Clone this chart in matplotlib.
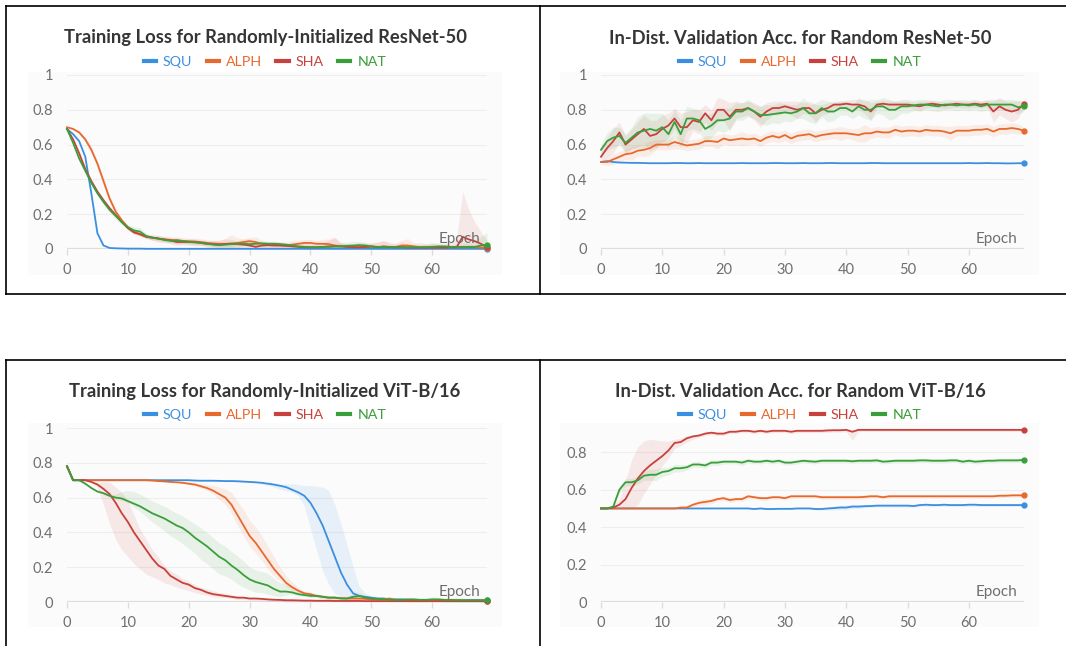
"""Recreación de las cuatro curvas de entrenamiento (ResNet-50 / ViT-B/16)."""

import matplotlib
matplotlib.use('Agg')
import matplotlib.pyplot as plt
from matplotlib.lines import Line2D
from matplotlib.patches import Rectangle


ANCHO_PX = 1066
ALTO_PX = 646
FUENTE = 'Lato'

EPOCAS = list(range(70))
NOMBRES = ['SQU', 'ALPH', 'SHA', 'NAT']
COLORES = ['#3b8fe0', '#e8692d', '#c8413d', '#3a9f3a']

# ---------------- Training Loss ResNet-50 ----------------
rn_loss_squ = [
    0.69, 0.66, 0.62, 0.53, 0.32, 0.09, 0.02, 0.006, 0.004, 0.003,
    0.002, 0.002, 0.002, 0.001, 0.001, 0.001, 0.001, 0.001, 0.001, 0.001,
    0.001, 0.001, 0.001, 0.001, 0.001, 0.001, 0.001, 0.001, 0.001, 0.001,
    0.001, 0.001, 0.001, 0.001, 0.001, 0.001, 0.001, 0.001, 0.001, 0.001,
    0.001, 0.001, 0.001, 0.001, 0.001, 0.001, 0.001, 0.001, 0.001, 0.001,
    0.001, 0.001, 0.001, 0.001, 0.001, 0.001, 0.001, 0.001, 0.001, 0.001,
    0.001, 0.001, 0.001, 0.001, 0.001, 0.001, 0.001, 0.001, 0.001, 0.0]
rn_loss_alph = [
    0.70, 0.69, 0.67, 0.63, 0.57, 0.49, 0.39, 0.29, 0.215, 0.165,
    0.125, 0.10, 0.085, 0.072, 0.066, 0.06, 0.055, 0.052, 0.05, 0.047,
    0.045, 0.043, 0.04, 0.035, 0.032, 0.03, 0.03, 0.032, 0.035, 0.04,
    0.045, 0.04, 0.03, 0.025, 0.025, 0.022, 0.02, 0.025, 0.03, 0.035,
    0.035, 0.03, 0.03, 0.028, 0.02, 0.015, 0.012, 0.012, 0.01, 0.01,
    0.012, 0.012, 0.01, 0.01, 0.012, 0.02, 0.02, 0.015, 0.01, 0.01,
    0.008, 0.008, 0.008, 0.01, 0.01, 0.01, 0.01, 0.01, 0.008, 0.008]
rn_loss_sha = [
    0.69, 0.63, 0.55, 0.46, 0.39, 0.33, 0.28, 0.235, 0.195, 0.155,
    0.12, 0.095, 0.085, 0.07, 0.065, 0.06, 0.055, 0.05, 0.04, 0.04,
    0.04, 0.038, 0.035, 0.03, 0.028, 0.025, 0.028, 0.03, 0.028, 0.025,
    0.02, 0.012, 0.02, 0.022, 0.02, 0.02, 0.018, 0.015, 0.012, 0.01,
    0.01, 0.01, 0.012, 0.015, 0.015, 0.015, 0.012, 0.01, 0.01, 0.012,
    0.015, 0.01, 0.015, 0.012, 0.01, 0.01, 0.008, 0.008, 0.008, 0.008,
    0.008, 0.008, 0.008, 0.01, 0.01, 0.07, 0.055, 0.045, 0.03, 0.01]
rn_loss_nat = [
    0.69, 0.61, 0.52, 0.45, 0.38, 0.32, 0.27, 0.225, 0.19, 0.155,
    0.125, 0.107, 0.10, 0.075, 0.065, 0.06, 0.052, 0.047, 0.05, 0.045,
    0.04, 0.04, 0.035, 0.03, 0.025, 0.022, 0.025, 0.028, 0.03, 0.03,
    0.028, 0.03, 0.032, 0.03, 0.03, 0.028, 0.025, 0.02, 0.015, 0.012,
    0.01, 0.01, 0.012, 0.012, 0.015, 0.015, 0.018, 0.02, 0.022, 0.02,
    0.015, 0.012, 0.012, 0.012, 0.01, 0.01, 0.01, 0.01, 0.01, 0.01,
    0.012, 0.015, 0.015, 0.012, 0.012, 0.012, 0.012, 0.012, 0.02, 0.025]

# dispersión (min/max entre corridas) alrededor de cada curva
rn_loss_alph_sd = [
    0.0, 0.005, 0.01, 0.015, 0.02, 0.02, 0.02, 0.02, 0.015, 0.01,
    0.01, 0.01, 0.01, 0.01, 0.015, 0.015, 0.02, 0.015, 0.02, 0.02,
    0.015, 0.02, 0.02, 0.015, 0.02, 0.02, 0.03, 0.05, 0.03, 0.02,
    0.02, 0.03, 0.02, 0.015, 0.02, 0.02, 0.02, 0.025, 0.02, 0.02,
    0.02, 0.02, 0.025, 0.03, 0.05, 0.02, 0.015, 0.015, 0.02, 0.02,
    0.02, 0.025, 0.035, 0.03, 0.02, 0.03, 0.04, 0.02, 0.015, 0.02,
    0.03, 0.02, 0.015, 0.015, 0.02, 0.03, 0.02, 0.015, 0.015, 0.01]
rn_loss_sha_sd = [
    0.0, 0.005, 0.01, 0.01, 0.01, 0.01, 0.01, 0.01, 0.01, 0.01,
    0.01, 0.01, 0.01, 0.01, 0.015, 0.02, 0.015, 0.02, 0.02, 0.015,
    0.02, 0.02, 0.015, 0.02, 0.02, 0.025, 0.03, 0.025, 0.02, 0.03,
    0.04, 0.03, 0.02, 0.025, 0.02, 0.02, 0.015, 0.02, 0.025, 0.03,
    0.02, 0.02, 0.025, 0.035, 0.05, 0.02, 0.02, 0.02, 0.03, 0.025,
    0.02, 0.03, 0.035, 0.02, 0.02, 0.03, 0.02, 0.02, 0.03, 0.02,
    0.02, 0.015, 0.02, 0.03, 0.05, 0.26, 0.17, 0.11, 0.07, 0.04]
rn_loss_nat_sd = [
    0.0, 0.005, 0.01, 0.01, 0.01, 0.01, 0.015, 0.015, 0.02, 0.015,
    0.015, 0.02, 0.025, 0.015, 0.01, 0.01, 0.01, 0.01, 0.015, 0.01,
    0.01, 0.01, 0.01, 0.01, 0.01, 0.01, 0.01, 0.015, 0.01, 0.01,
    0.01, 0.01, 0.015, 0.01, 0.01, 0.01, 0.01, 0.01, 0.01, 0.01,
    0.01, 0.01, 0.01, 0.015, 0.015, 0.02, 0.02, 0.025, 0.02, 0.015,
    0.01, 0.01, 0.01, 0.01, 0.01, 0.01, 0.01, 0.01, 0.01, 0.015,
    0.02, 0.02, 0.015, 0.01, 0.01, 0.015, 0.02, 0.03, 0.05, 0.07]

# ---------------- Validation Acc ResNet-50 ----------------
rn_acc_squ = [
    0.50, 0.505, 0.50, 0.497, 0.496, 0.495, 0.495, 0.494, 0.493, 0.493,
    0.493, 0.493, 0.494, 0.494, 0.493, 0.493, 0.494, 0.493, 0.493, 0.493,
    0.493, 0.493, 0.493, 0.494, 0.493, 0.493, 0.493, 0.493, 0.494, 0.494,
    0.493, 0.493, 0.493, 0.494, 0.493, 0.493, 0.493, 0.494, 0.494, 0.493,
    0.493, 0.493, 0.493, 0.493, 0.494, 0.494, 0.493, 0.493, 0.493, 0.493,
    0.493, 0.493, 0.493, 0.493, 0.493, 0.493, 0.493, 0.493, 0.493, 0.493,
    0.494, 0.493, 0.493, 0.494, 0.493, 0.493, 0.492, 0.492, 0.493, 0.493]
rn_acc_alph = [
    0.50, 0.50, 0.515, 0.53, 0.545, 0.55, 0.565, 0.57, 0.58, 0.60,
    0.60, 0.60, 0.615, 0.605, 0.595, 0.60, 0.605, 0.62, 0.62, 0.615,
    0.635, 0.625, 0.63, 0.635, 0.63, 0.635, 0.62, 0.64, 0.65, 0.64,
    0.655, 0.635, 0.65, 0.655, 0.66, 0.645, 0.655, 0.66, 0.665, 0.665,
    0.665, 0.66, 0.655, 0.665, 0.665, 0.675, 0.67, 0.67, 0.685, 0.675,
    0.68, 0.68, 0.675, 0.685, 0.68, 0.68, 0.675, 0.665, 0.68, 0.68,
    0.68, 0.685, 0.685, 0.69, 0.675, 0.69, 0.69, 0.695, 0.69, 0.68]
rn_acc_sha = [
    0.53, 0.58, 0.62, 0.67, 0.60, 0.63, 0.66, 0.69, 0.65, 0.66,
    0.69, 0.71, 0.75, 0.70, 0.70, 0.74, 0.73, 0.78, 0.74, 0.80,
    0.80, 0.76, 0.80, 0.80, 0.81, 0.79, 0.76, 0.79, 0.81, 0.81,
    0.82, 0.81, 0.80, 0.81, 0.81, 0.78, 0.80, 0.81, 0.83, 0.83,
    0.835, 0.83, 0.83, 0.82, 0.79, 0.83, 0.835, 0.83, 0.83, 0.83,
    0.83, 0.825, 0.82, 0.83, 0.835, 0.83, 0.825, 0.83, 0.835, 0.83,
    0.83, 0.835, 0.83, 0.835, 0.79, 0.82, 0.80, 0.79, 0.80, 0.835]
rn_acc_nat = [
    0.57, 0.62, 0.64, 0.65, 0.61, 0.64, 0.67, 0.68, 0.69, 0.68,
    0.70, 0.66, 0.73, 0.66, 0.75, 0.75, 0.74, 0.69, 0.71, 0.74,
    0.74, 0.75, 0.79, 0.79, 0.81, 0.79, 0.77, 0.77, 0.775, 0.78,
    0.785, 0.78, 0.79, 0.81, 0.78, 0.78, 0.81, 0.79, 0.79, 0.81,
    0.81, 0.79, 0.82, 0.80, 0.80, 0.82, 0.82, 0.80, 0.80, 0.82,
    0.82, 0.825, 0.83, 0.83, 0.825, 0.82, 0.83, 0.83, 0.825, 0.83,
    0.825, 0.83, 0.82, 0.83, 0.83, 0.83, 0.83, 0.83, 0.815, 0.82]

rn_acc_alph_sd = [
    0.01, 0.02, 0.03, 0.03, 0.03, 0.04, 0.03, 0.04, 0.04, 0.03,
    0.03, 0.03, 0.04, 0.03, 0.03, 0.03, 0.03, 0.03, 0.03, 0.04,
    0.03, 0.03, 0.03, 0.04, 0.03, 0.03, 0.03, 0.03, 0.03, 0.03,
    0.03, 0.03, 0.03, 0.03, 0.03, 0.03, 0.03, 0.03, 0.03, 0.04,
    0.03, 0.03, 0.04, 0.05, 0.03, 0.03, 0.03, 0.03, 0.03, 0.03,
    0.03, 0.03, 0.03, 0.03, 0.03, 0.03, 0.03, 0.04, 0.03, 0.03,
    0.03, 0.03, 0.03, 0.03, 0.03, 0.03, 0.03, 0.03, 0.03, 0.02]
rn_acc_sha_sd = [
    0.03, 0.06, 0.07, 0.06, 0.05, 0.06, 0.07, 0.08, 0.09, 0.08,
    0.08, 0.07, 0.06, 0.08, 0.09, 0.06, 0.07, 0.05, 0.06, 0.07,
    0.06, 0.08, 0.05, 0.04, 0.04, 0.05, 0.06, 0.05, 0.04, 0.04,
    0.03, 0.04, 0.05, 0.03, 0.04, 0.05, 0.03, 0.03, 0.02, 0.02,
    0.02, 0.03, 0.03, 0.04, 0.05, 0.02, 0.02, 0.02, 0.02, 0.02,
    0.02, 0.02, 0.03, 0.02, 0.02, 0.02, 0.02, 0.02, 0.02, 0.02,
    0.02, 0.02, 0.02, 0.02, 0.06, 0.05, 0.05, 0.06, 0.05, 0.02]
rn_acc_nat_sd = [
    0.03, 0.05, 0.06, 0.05, 0.05, 0.06, 0.09, 0.10, 0.09, 0.10,
    0.08, 0.08, 0.07, 0.08, 0.07, 0.06, 0.06, 0.08, 0.07, 0.06,
    0.07, 0.06, 0.05, 0.05, 0.05, 0.04, 0.05, 0.06, 0.05, 0.06,
    0.05, 0.05, 0.04, 0.06, 0.05, 0.06, 0.05, 0.06, 0.05, 0.04,
    0.04, 0.04, 0.05, 0.05, 0.06, 0.04, 0.05, 0.06, 0.05, 0.04,
    0.04, 0.03, 0.03, 0.03, 0.03, 0.03, 0.03, 0.03, 0.03, 0.03,
    0.03, 0.03, 0.03, 0.03, 0.03, 0.03, 0.03, 0.03, 0.04, 0.03]

# ---------------- Training Loss ViT-B/16 ----------------
vit_loss_squ = [
    0.78, 0.70, 0.70, 0.70, 0.70, 0.70, 0.70, 0.70, 0.70, 0.70,
    0.70, 0.70, 0.70, 0.70, 0.70, 0.70, 0.70, 0.70, 0.70, 0.70,
    0.70, 0.698, 0.697, 0.697, 0.697, 0.696, 0.695, 0.695, 0.694, 0.692,
    0.69, 0.688, 0.685, 0.68, 0.675, 0.668, 0.66, 0.645, 0.63, 0.61,
    0.57, 0.51, 0.44, 0.35, 0.26, 0.17, 0.10, 0.05, 0.035, 0.03,
    0.025, 0.02, 0.02, 0.015, 0.015, 0.015, 0.012, 0.012, 0.012, 0.012,
    0.012, 0.012, 0.01, 0.01, 0.01, 0.01, 0.01, 0.01, 0.01, 0.01]
vit_loss_alph = [
    0.78, 0.70, 0.70, 0.70, 0.70, 0.70, 0.70, 0.70, 0.70, 0.70,
    0.70, 0.70, 0.70, 0.70, 0.698, 0.695, 0.693, 0.69, 0.688, 0.685,
    0.68, 0.675, 0.665, 0.655, 0.64, 0.62, 0.60, 0.56, 0.50, 0.44,
    0.38, 0.34, 0.29, 0.24, 0.19, 0.15, 0.11, 0.085, 0.065, 0.05,
    0.045, 0.035, 0.03, 0.025, 0.025, 0.022, 0.02, 0.02, 0.02, 0.018,
    0.015, 0.015, 0.015, 0.02, 0.012, 0.012, 0.01, 0.01, 0.01, 0.01,
    0.01, 0.01, 0.01, 0.01, 0.01, 0.008, 0.008, 0.008, 0.008, 0.008]
vit_loss_sha = [
    0.78, 0.70, 0.70, 0.70, 0.69, 0.675, 0.65, 0.62, 0.57, 0.51,
    0.46, 0.40, 0.35, 0.30, 0.25, 0.21, 0.19, 0.15, 0.13, 0.11,
    0.10, 0.08, 0.07, 0.055, 0.045, 0.04, 0.035, 0.03, 0.025, 0.025,
    0.02, 0.02, 0.018, 0.015, 0.013, 0.012, 0.01, 0.01, 0.009, 0.008,
    0.008, 0.007, 0.007, 0.007, 0.006, 0.006, 0.006, 0.006, 0.006, 0.005,
    0.005, 0.005, 0.005, 0.005, 0.005, 0.005, 0.005, 0.005, 0.005, 0.005,
    0.005, 0.005, 0.005, 0.005, 0.005, 0.005, 0.005, 0.005, 0.005, 0.004]
vit_loss_nat = [
    0.78, 0.70, 0.70, 0.68, 0.655, 0.635, 0.625, 0.61, 0.60, 0.595,
    0.58, 0.565, 0.55, 0.53, 0.51, 0.495, 0.48, 0.46, 0.44, 0.425,
    0.40, 0.37, 0.345, 0.32, 0.29, 0.26, 0.24, 0.21, 0.185, 0.155,
    0.13, 0.115, 0.105, 0.095, 0.075, 0.06, 0.06, 0.055, 0.045, 0.04,
    0.035, 0.035, 0.03, 0.025, 0.025, 0.02, 0.02, 0.03, 0.035, 0.025,
    0.02, 0.018, 0.015, 0.012, 0.012, 0.012, 0.015, 0.015, 0.012, 0.012,
    0.015, 0.015, 0.012, 0.012, 0.01, 0.01, 0.01, 0.01, 0.01, 0.01]

# bandas asimétricas: distancia hacia abajo (_ab) y hacia arriba (_ar)
vit_loss_squ_ab = [
    0.0, 0.0, 0.0, 0.0, 0.0, 0.0, 0.0, 0.0, 0.0, 0.0,
    0.0, 0.0, 0.0, 0.0, 0.0, 0.0, 0.0, 0.0, 0.0, 0.0,
    0.003, 0.003, 0.003, 0.003, 0.003, 0.003, 0.003, 0.003, 0.005, 0.005,
    0.005, 0.005, 0.008, 0.01, 0.015, 0.02, 0.02, 0.015, 0.02, 0.06,
    0.15, 0.21, 0.26, 0.25, 0.21, 0.14, 0.08, 0.035, 0.02, 0.015,
    0.01, 0.01, 0.01, 0.01, 0.01, 0.01, 0.01, 0.01, 0.01, 0.01,
    0.01, 0.01, 0.01, 0.01, 0.01, 0.01, 0.01, 0.01, 0.01, 0.01]
vit_loss_squ_ar = [
    0.0, 0.0, 0.003, 0.003, 0.003, 0.003, 0.003, 0.003, 0.003, 0.003,
    0.003, 0.003, 0.003, 0.003, 0.003, 0.003, 0.003, 0.003, 0.003, 0.003,
    0.003, 0.003, 0.003, 0.003, 0.003, 0.003, 0.003, 0.003, 0.003, 0.003,
    0.003, 0.003, 0.003, 0.003, 0.004, 0.008, 0.02, 0.035, 0.045, 0.06,
    0.10, 0.155, 0.22, 0.29, 0.30, 0.28, 0.23, 0.15, 0.055, 0.02,
    0.01, 0.01, 0.01, 0.01, 0.01, 0.01, 0.01, 0.01, 0.01, 0.01,
    0.01, 0.01, 0.01, 0.01, 0.01, 0.01, 0.01, 0.01, 0.01, 0.01]
vit_loss_alph_ab = [
    0.0, 0.0, 0.0, 0.0, 0.0, 0.0, 0.0, 0.0, 0.0, 0.0,
    0.0, 0.0, 0.0, 0.0, 0.0, 0.0, 0.0, 0.0, 0.0, 0.003,
    0.005, 0.008, 0.01, 0.015, 0.02, 0.03, 0.04, 0.05, 0.06, 0.06,
    0.06, 0.06, 0.05, 0.05, 0.04, 0.03, 0.02, 0.02, 0.015, 0.01,
    0.01, 0.01, 0.01, 0.01, 0.01, 0.01, 0.01, 0.01, 0.01, 0.01,
    0.01, 0.01, 0.01, 0.01, 0.01, 0.01, 0.01, 0.01, 0.01, 0.01,
    0.01, 0.01, 0.01, 0.01, 0.01, 0.01, 0.01, 0.01, 0.01, 0.01]
vit_loss_alph_ar = [
    0.0, 0.0, 0.003, 0.003, 0.003, 0.003, 0.003, 0.003, 0.003, 0.003,
    0.003, 0.003, 0.003, 0.003, 0.003, 0.003, 0.003, 0.003, 0.005, 0.008,
    0.01, 0.012, 0.015, 0.02, 0.03, 0.04, 0.05, 0.07, 0.08, 0.09,
    0.09, 0.09, 0.09, 0.08, 0.07, 0.05, 0.04, 0.03, 0.02, 0.01,
    0.01, 0.01, 0.01, 0.01, 0.01, 0.01, 0.01, 0.01, 0.01, 0.01,
    0.01, 0.01, 0.01, 0.01, 0.01, 0.01, 0.01, 0.01, 0.01, 0.01,
    0.01, 0.01, 0.01, 0.01, 0.01, 0.01, 0.01, 0.01, 0.01, 0.01]
vit_loss_sha_ab = [
    0.0, 0.0, 0.0, 0.003, 0.005, 0.015, 0.09, 0.17, 0.21, 0.21,
    0.20, 0.18, 0.16, 0.14, 0.105, 0.08, 0.08, 0.05, 0.045, 0.035,
    0.035, 0.025, 0.025, 0.015, 0.015, 0.015, 0.01, 0.01, 0.01, 0.01,
    0.01, 0.01, 0.01, 0.01, 0.01, 0.01, 0.01, 0.01, 0.01, 0.01,
    0.01, 0.01, 0.01, 0.01, 0.01, 0.01, 0.01, 0.01, 0.01, 0.01,
    0.01, 0.01, 0.01, 0.01, 0.01, 0.01, 0.01, 0.01, 0.01, 0.01,
    0.01, 0.01, 0.01, 0.01, 0.01, 0.01, 0.01, 0.01, 0.01, 0.01]
vit_loss_sha_ar = [
    0.0, 0.0, 0.003, 0.003, 0.005, 0.015, 0.04, 0.07, 0.09, 0.12,
    0.12, 0.10, 0.07, 0.06, 0.05, 0.05, 0.02, 0.03, 0.03, 0.025,
    0.02, 0.02, 0.015, 0.02, 0.02, 0.015, 0.015, 0.01, 0.01, 0.006,
    0.006, 0.006, 0.006, 0.006, 0.006, 0.006, 0.006, 0.006, 0.006, 0.006,
    0.006, 0.006, 0.006, 0.006, 0.006, 0.006, 0.006, 0.006, 0.006, 0.006,
    0.006, 0.006, 0.006, 0.006, 0.006, 0.006, 0.006, 0.006, 0.006, 0.006,
    0.006, 0.006, 0.006, 0.006, 0.006, 0.006, 0.006, 0.006, 0.006, 0.006]
vit_loss_nat_ab = [
    0.0, 0.005, 0.005, 0.005, 0.005, 0.005, 0.005, 0.005, 0.01, 0.01,
    0.01, 0.02, 0.03, 0.04, 0.05, 0.06, 0.07, 0.08, 0.08, 0.09,
    0.09, 0.09, 0.10, 0.10, 0.10, 0.10, 0.09, 0.08, 0.08, 0.07,
    0.06, 0.06, 0.05, 0.05, 0.04, 0.03, 0.02, 0.01, 0.01, 0.01,
    0.01, 0.01, 0.01, 0.01, 0.01, 0.01, 0.01, 0.01, 0.01, 0.01,
    0.01, 0.01, 0.01, 0.01, 0.01, 0.01, 0.01, 0.01, 0.01, 0.01,
    0.01, 0.01, 0.01, 0.01, 0.01, 0.01, 0.01, 0.01, 0.01, 0.01]
vit_loss_nat_ar = [
    0.02, 0.005, 0.005, 0.005, 0.005, 0.005, 0.005, 0.005, 0.02, 0.04,
    0.06, 0.07, 0.07, 0.07, 0.07, 0.07, 0.07, 0.07, 0.07, 0.07,
    0.07, 0.08, 0.08, 0.08, 0.08, 0.08, 0.08, 0.08, 0.08, 0.08,
    0.07, 0.07, 0.07, 0.07, 0.06, 0.05, 0.04, 0.03, 0.02, 0.012,
    0.012, 0.012, 0.012, 0.012, 0.012, 0.012, 0.012, 0.02, 0.02, 0.012,
    0.012, 0.012, 0.012, 0.012, 0.012, 0.012, 0.012, 0.012, 0.012, 0.012,
    0.015, 0.012, 0.012, 0.012, 0.012, 0.012, 0.012, 0.012, 0.012, 0.012]

# ---------------- Validation Acc ViT-B/16 ----------------
vit_acc_squ = [
    0.50, 0.50, 0.50, 0.50, 0.50, 0.50, 0.50, 0.50, 0.50, 0.50,
    0.50, 0.50, 0.50, 0.50, 0.50, 0.50, 0.50, 0.50, 0.50, 0.50,
    0.50, 0.50, 0.50, 0.50, 0.50, 0.497, 0.50, 0.497, 0.497, 0.498,
    0.498, 0.498, 0.50, 0.50, 0.50, 0.497, 0.497, 0.50, 0.502, 0.505,
    0.505, 0.51, 0.51, 0.512, 0.513, 0.515, 0.515, 0.515, 0.515, 0.515,
    0.515, 0.513, 0.518, 0.52, 0.518, 0.518, 0.52, 0.518, 0.518, 0.518,
    0.52, 0.52, 0.518, 0.518, 0.518, 0.518, 0.518, 0.518, 0.518, 0.518]
vit_acc_alph = [
    0.50, 0.50, 0.50, 0.50, 0.50, 0.50, 0.50, 0.50, 0.50, 0.50,
    0.50, 0.50, 0.50, 0.505, 0.505, 0.52, 0.53, 0.535, 0.54, 0.55,
    0.555, 0.545, 0.55, 0.55, 0.565, 0.56, 0.555, 0.555, 0.56, 0.56,
    0.555, 0.565, 0.565, 0.565, 0.565, 0.565, 0.56, 0.56, 0.56, 0.56,
    0.56, 0.56, 0.56, 0.562, 0.565, 0.565, 0.56, 0.565, 0.565, 0.565,
    0.565, 0.565, 0.565, 0.565, 0.565, 0.565, 0.565, 0.565, 0.565, 0.565,
    0.565, 0.565, 0.565, 0.565, 0.565, 0.568, 0.568, 0.57, 0.57, 0.57]
vit_acc_sha = [
    0.50, 0.50, 0.505, 0.52, 0.55, 0.61, 0.66, 0.70, 0.73, 0.755,
    0.78, 0.81, 0.85, 0.855, 0.875, 0.885, 0.89, 0.90, 0.905, 0.90,
    0.90, 0.91, 0.91, 0.915, 0.915, 0.91, 0.915, 0.91, 0.915, 0.915,
    0.915, 0.91, 0.915, 0.915, 0.915, 0.915, 0.915, 0.917, 0.918, 0.918,
    0.92, 0.91, 0.92, 0.92, 0.92, 0.92, 0.92, 0.92, 0.92, 0.92,
    0.92, 0.92, 0.92, 0.92, 0.92, 0.92, 0.92, 0.92, 0.92, 0.92,
    0.92, 0.92, 0.92, 0.92, 0.92, 0.92, 0.92, 0.92, 0.92, 0.92]
vit_acc_nat = [
    0.50, 0.50, 0.51, 0.60, 0.64, 0.64, 0.65, 0.675, 0.68, 0.68,
    0.695, 0.70, 0.715, 0.715, 0.72, 0.735, 0.735, 0.73, 0.745, 0.745,
    0.75, 0.75, 0.75, 0.745, 0.755, 0.75, 0.75, 0.755, 0.75, 0.755,
    0.745, 0.745, 0.75, 0.755, 0.752, 0.75, 0.755, 0.755, 0.755, 0.755,
    0.755, 0.752, 0.755, 0.755, 0.755, 0.757, 0.75, 0.752, 0.755, 0.755,
    0.755, 0.755, 0.757, 0.757, 0.755, 0.755, 0.755, 0.757, 0.757, 0.75,
    0.755, 0.75, 0.752, 0.755, 0.755, 0.757, 0.757, 0.757, 0.757, 0.76]

vit_acc_sha_ab = [
    0.0, 0.0, 0.0, 0.01, 0.05, 0.11, 0.14, 0.12, 0.10, 0.07,
    0.05, 0.04, 0.03, 0.02, 0.02, 0.015, 0.01, 0.01, 0.01, 0.01,
    0.01, 0.01, 0.01, 0.01, 0.01, 0.01, 0.01, 0.01, 0.01, 0.01,
    0.01, 0.01, 0.01, 0.01, 0.01, 0.01, 0.01, 0.01, 0.01, 0.01,
    0.01, 0.045, 0.01, 0.008, 0.008, 0.008, 0.008, 0.008, 0.008, 0.008,
    0.008, 0.008, 0.008, 0.008, 0.008, 0.008, 0.008, 0.008, 0.008, 0.008,
    0.008, 0.008, 0.008, 0.008, 0.008, 0.008, 0.008, 0.008, 0.008, 0.008]
vit_acc_sha_ar = [
    0.0, 0.0, 0.01, 0.03, 0.10, 0.15, 0.17, 0.16, 0.14, 0.11,
    0.08, 0.05, 0.02, 0.02, 0.015, 0.008, 0.008, 0.008, 0.008, 0.008,
    0.008, 0.008, 0.008, 0.008, 0.008, 0.008, 0.008, 0.008, 0.008, 0.008,
    0.008, 0.008, 0.008, 0.008, 0.008, 0.008, 0.008, 0.008, 0.008, 0.008,
    0.008, 0.008, 0.008, 0.008, 0.008, 0.008, 0.008, 0.008, 0.008, 0.008,
    0.008, 0.008, 0.008, 0.008, 0.008, 0.008, 0.008, 0.008, 0.008, 0.008,
    0.008, 0.008, 0.008, 0.008, 0.008, 0.008, 0.008, 0.008, 0.008, 0.008]
vit_acc_nat_sd = [
    0.0, 0.0, 0.01, 0.02, 0.02, 0.02, 0.02, 0.025, 0.03, 0.03,
    0.025, 0.02, 0.02, 0.02, 0.015, 0.015, 0.015, 0.015, 0.015, 0.015,
    0.012, 0.012, 0.012, 0.015, 0.012, 0.012, 0.012, 0.012, 0.012, 0.012,
    0.012, 0.012, 0.012, 0.012, 0.012, 0.012, 0.012, 0.012, 0.012, 0.012,
    0.012, 0.012, 0.012, 0.012, 0.012, 0.012, 0.012, 0.012, 0.012, 0.012,
    0.012, 0.012, 0.012, 0.012, 0.012, 0.012, 0.012, 0.012, 0.012, 0.012,
    0.012, 0.012, 0.012, 0.012, 0.012, 0.012, 0.012, 0.012, 0.012, 0.012]
vit_acc_alph_sd = [
    0.0, 0.0, 0.0, 0.0, 0.0, 0.0, 0.0, 0.0, 0.0, 0.0,
    0.0, 0.0, 0.003, 0.005, 0.008, 0.012, 0.015, 0.015, 0.015, 0.012,
    0.012, 0.012, 0.012, 0.012, 0.012, 0.01, 0.01, 0.01, 0.01, 0.01,
    0.01, 0.01, 0.01, 0.01, 0.01, 0.01, 0.01, 0.01, 0.01, 0.01,
    0.01, 0.01, 0.01, 0.01, 0.01, 0.01, 0.01, 0.01, 0.01, 0.01,
    0.01, 0.01, 0.01, 0.01, 0.01, 0.01, 0.01, 0.01, 0.01, 0.01,
    0.01, 0.01, 0.01, 0.01, 0.01, 0.01, 0.01, 0.01, 0.01, 0.01]
vit_acc_squ_sd = [
    0.0, 0.0, 0.0, 0.0, 0.0, 0.0, 0.0, 0.0, 0.0, 0.0,
    0.0, 0.0, 0.0, 0.0, 0.0, 0.0, 0.0, 0.0, 0.0, 0.0,
    0.0, 0.0, 0.0, 0.0, 0.0, 0.003, 0.003, 0.003, 0.003, 0.003,
    0.003, 0.003, 0.003, 0.003, 0.003, 0.005, 0.005, 0.008, 0.01, 0.012,
    0.012, 0.012, 0.01, 0.008, 0.008, 0.008, 0.008, 0.008, 0.008, 0.008,
    0.008, 0.008, 0.008, 0.008, 0.008, 0.008, 0.008, 0.008, 0.008, 0.008,
    0.008, 0.008, 0.008, 0.008, 0.008, 0.008, 0.008, 0.008, 0.008, 0.008]


def px_x(x):
    return x / ANCHO_PX


def px_y(y):
    return 1 - y / ALTO_PX


def _dibujar_panel(fig, ax, series, bandas, titulo, centro_x, titulo_y, ymax, yticks):
    """Dibuja un panel con estilo de tablero de entrenamiento."""
    ax.set_xlim(0, 69)
    ax.set_ylim(0, ymax)
    for s in ax.spines.values():
        s.set_visible(False)

    # Rejilla horizontal y eje base
    ax.set_yticks(yticks)
    ax.set_yticklabels(['0' if t == 0 else ('1' if t == 1 else f'{t:g}') for t in yticks])
    ax.grid(axis='y', color='#eeeeee', linewidth=0.8, zorder=0)
    ax.axhline(0, color='#dddddd', linewidth=1.6, zorder=1)
    ax.set_xticks([0, 10, 20, 30, 40, 50, 60])
    ax.tick_params(axis='x', length=4, width=1, color='#dddddd', pad=6,
                   labelsize=10.5, labelcolor='#6f6f6f')
    ax.tick_params(axis='y', length=0, pad=10, labelsize=10.5, labelcolor='#6f6f6f')
    for lbl in ax.get_xticklabels() + ax.get_yticklabels():
        lbl.set_family(FUENTE)

    # Bandas min/max y curvas
    for y, (ab, ar), color in zip(series, bandas, COLORES):
        if ab is not None:
            lo = [max(v - d, 0) for v, d in zip(y, ab)]
            hi = [v + d for v, d in zip(y, ar)]
            ax.fill_between(EPOCAS, lo, hi, color=color, alpha=0.1, linewidth=0, zorder=2)
    for y, color in zip(series, COLORES):
        ax.plot(EPOCAS, y, color=color, linewidth=1.3, zorder=3, clip_on=False)
        ax.plot(EPOCAS[-1:], y[-1:], 'o', color=color, markersize=3.5, zorder=4, clip_on=False)

    ax.text(0.985, 0.055, 'Epoch', transform=ax.transAxes, ha='right', va='center',
            fontsize=11, color='#6f6f6f', family=FUENTE, zorder=5)

    fig.text(centro_x, titulo_y, titulo, ha='center', va='center', fontsize=13.2,
             fontweight='bold', color='#353535', family=FUENTE)

    # Leyenda con texto del color de la serie
    manijas = [Line2D([0], [0], color=c, linewidth=3) for c in COLORES]
    ley = fig.legend(manijas, NOMBRES, loc='center', ncol=4, frameon=False,
                     bbox_to_anchor=(centro_x, titulo_y - 0.037), handlelength=0.85,
                     handletextpad=0.5, columnspacing=1.0,
                     prop={'family': FUENTE, 'size': 10.3}, labelcolor='linecolor')
    return ley


fig = plt.figure(figsize=(ANCHO_PX / 100, ALTO_PX / 100), dpi=100)
fig.patch.set_facecolor('white')

# Fondos muy tenues de cada tarjeta
for (x0, y0, x1, y1) in [(28, 72, 502, 275), (560, 72, 1039, 275),
                         (28, 423, 502, 627), (560, 423, 1039, 627)]:
    fig.add_artist(Rectangle((px_x(x0), px_y(y1)), px_x(x1 - x0), (y1 - y0) / ALTO_PX,
                             transform=fig.transFigure, facecolor='#fbfbfb',
                             edgecolor='none', zorder=-5))

ax1 = fig.add_axes([px_x(67), px_y(249), px_x(420), 174 / ALTO_PX])
ax2 = fig.add_axes([px_x(601), px_y(249), px_x(423), 174 / ALTO_PX])
ax3 = fig.add_axes([px_x(67), px_y(602), px_x(420), 174 / ALTO_PX])
ax4 = fig.add_axes([px_x(601), px_y(602), px_x(423), 174 / ALTO_PX])
for ax in (ax1, ax2, ax3, ax4):
    ax.patch.set_alpha(0)

ticks_1 = [0, 0.2, 0.4, 0.6, 0.8, 1]
ticks_2 = [0, 0.2, 0.4, 0.6, 0.8]

_dibujar_panel(fig, ax1, [rn_loss_squ, rn_loss_alph, rn_loss_sha, rn_loss_nat],
               [(None, None), (rn_loss_alph_sd, rn_loss_alph_sd),
                (rn_loss_sha_sd, rn_loss_sha_sd), (rn_loss_nat_sd, rn_loss_nat_sd)],
               'Training Loss for Randomly-Initialized ResNet-50',
               px_x(265), px_y(38), 1, ticks_1)
_dibujar_panel(fig, ax2, [rn_acc_squ, rn_acc_alph, rn_acc_sha, rn_acc_nat],
               [(None, None), (rn_acc_alph_sd, rn_acc_alph_sd),
                (rn_acc_sha_sd, rn_acc_sha_sd), (rn_acc_nat_sd, rn_acc_nat_sd)],
               'In-Dist. Validation Acc. for Random ResNet-50',
               px_x(800), px_y(38), 1, ticks_1)
_dibujar_panel(fig, ax3, [vit_loss_squ, vit_loss_alph, vit_loss_sha, vit_loss_nat],
               [(vit_loss_squ_ab, vit_loss_squ_ar), (vit_loss_alph_ab, vit_loss_alph_ar),
                (vit_loss_sha_ab, vit_loss_sha_ar), (vit_loss_nat_ab, vit_loss_nat_ar)],
               'Training Loss for Randomly-Initialized ViT-B/16',
               px_x(265), px_y(391), 1, ticks_1)
_dibujar_panel(fig, ax4, [vit_acc_squ, vit_acc_alph, vit_acc_sha, vit_acc_nat],
               [(vit_acc_squ_sd, vit_acc_squ_sd), (vit_acc_alph_sd, vit_acc_alph_sd),
                (vit_acc_sha_ab, vit_acc_sha_ar), (vit_acc_nat_sd, vit_acc_nat_sd)],
               'In-Dist. Validation Acc. for Random ViT-B/16',
               px_x(800), px_y(391), 0.93, ticks_2)

# Bordes negros de las tarjetas (captura de pantalla)
bordes = [
    ((5.5, 5.5), (1066, 5.5)), ((5.5, 294.5), (1066, 294.5)),
    ((5.5, 5.5), (5.5, 294.5)), ((539.5, 5.5), (539.5, 294.5)),
    ((5.5, 359.5), (1066, 359.5)), ((5.5, 359.5), (5.5, 646)),
    ((539.5, 359.5), (539.5, 646)),
]
for (xa, ya), (xb, yb) in bordes:
    fig.add_artist(Line2D([px_x(xa), px_x(xb)], [px_y(ya), px_y(yb)],
                          transform=fig.transFigure, color='black', linewidth=1.2))

fig.savefig('out.png', dpi=100, facecolor='white')
plt.close(fig)
